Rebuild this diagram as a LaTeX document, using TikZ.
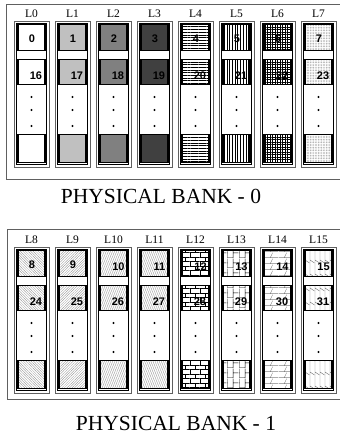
\documentclass[tikz,border=0pt]{standalone}
\usepackage{fontspec}
\setmainfont{Liberation Serif}
\newfontfamily\numfont{Liberation Sans}
\usetikzlibrary{patterns,patterns.meta}
\definecolor{gA}{HTML}{C0C0C0}
\definecolor{gB}{HTML}{808080}
\definecolor{gC}{HTML}{404040}
\definecolor{framegray}{HTML}{606060}
\definecolor{hatchgray}{HTML}{8A8A8A}

\tikzdeclarepattern{
  name=hbricks, type=uncolored,
  bottom left={(-0.5pt,-0.5pt)}, top right={(9.5pt,8.5pt)}, tile size={(10pt,9pt)},
  code={
    \draw[line width=0.45pt] (-0.5pt,0pt) -- (9.5pt,0pt) (-0.5pt,4.5pt) -- (9.5pt,4.5pt)
      (0pt,0pt) -- (0pt,4.5pt) (5pt,4.5pt) -- (5pt,8.5pt) (5pt,-0.5pt) -- (5pt,0pt);
  }
}
\tikzdeclarepattern{
  name=vbricks, type=uncolored,
  bottom left={(-0.5pt,-0.5pt)}, top right={(11.5pt,9.5pt)}, tile size={(12pt,10pt)},
  code={
    \draw[line width=0.45pt] (0pt,-0.5pt) -- (0pt,9.5pt) (6pt,-0.5pt) -- (6pt,9.5pt)
      (0pt,0pt) -- (6pt,0pt) (6pt,5pt) -- (11.5pt,5pt) (-0.5pt,5pt) -- (0pt,5pt);
  }
}
\tikzdeclarepattern{
  name=hslash, type=uncolored,
  bottom left={(-0.5pt,-0.5pt)}, top right={(13.5pt,5.5pt)}, tile size={(14pt,6pt)},
  code={
    \draw[line width=0.45pt] (-0.5pt,0pt) -- (13.5pt,0pt) (5pt,0pt) -- (7.5pt,5.5pt);
  }
}
\tikzdeclarepattern{
  name=vslash, type=uncolored,
  bottom left={(-0.5pt,-0.5pt)}, top right={(4.5pt,13.5pt)}, tile size={(5pt,14pt)},
  code={
    \draw[line width=0.45pt] (0pt,-0.5pt) -- (0pt,13.5pt) (0pt,9pt) -- (4.5pt,6pt);
  }
}

\tikzset{
  bankline/.style={draw=framegray, line width=0.8pt},
  collabel/.style={font=\fontsize{11.5}{12}\selectfont, inner sep=0pt},
  colouter/.style={draw=framegray, line width=0.55pt, minimum width=35pt, minimum height=146pt, inner sep=0pt},
  colinner/.style={draw=black, line width=0.6pt, minimum width=30.5pt, minimum height=141.5pt, inner sep=0pt},
  sq/.style={draw=black, line width=1.1pt, minimum width=27pt, minimum height=25.5pt, inner sep=0pt},
  num/.style={font=\numfont\bfseries\fontsize{11}{12}\selectfont, inner sep=0pt},
  dotn/.style={circle, fill=black, minimum size=2.2pt, inner sep=0pt},
  caption/.style={font=\fontsize{21.5}{24}\selectfont, inner sep=0pt},
  f0/.style={fill=white},
  f1/.style={fill=gA},
  f2/.style={fill=gB},
  f3/.style={fill=gC},
  f4/.style={pattern={Lines[angle=0,distance=2.7pt,line width=0.3pt]}},
  f5/.style={pattern={Lines[angle=90,distance=2.7pt,line width=0.3pt]}},
  f6/.style={pattern={Hatch[angle=0,distance=2.5pt,line width=0.3pt]}},
  f7/.style={pattern={Dots[distance=1.6pt,radius=0.4pt]}, pattern color=gray},
  f8/.style={pattern={Lines[angle=-45,distance=1.8pt,line width=0.3pt]}, pattern color=hatchgray},
  f9/.style={pattern={Lines[angle=45,distance=1.8pt,line width=0.3pt]}, pattern color=hatchgray},
  f10/.style={pattern={Lines[angle=-70,distance=1.8pt,line width=0.3pt]}, pattern color=hatchgray},
  f11/.style={pattern={Lines[angle=70,distance=1.8pt,line width=0.3pt]}, pattern color=hatchgray},
  f12/.style={pattern=hbricks, pattern color=black},
  f13/.style={pattern=vbricks, pattern color=black},
  f14/.style={pattern=hslash, pattern color=gray},
  f15/.style={pattern=vslash, pattern color=gray},
}

\newcommand\bankdraw[2]{%
  \foreach \i in {0,...,7}{
    \pgfmathtruncatemacro\L{#2*8+\i}
    \pgfmathtruncatemacro\M{\L+16}
    \pgfmathsetmacro\cx{31.5+41*\i}
    \ifnum\L<10 \def\dx{0.5}\def\dy{1}\else\def\dx{5}\def\dy{3.5}\fi
    \node[collabel] (lab\L) at (\cx,#1+14) {L\L};
    \node[colouter] (col\L) at (\cx,#1+94) {};
    \node[colinner] (ci\L) at (\cx,#1+94) {};
    \node[sq,f\L] (a\L) at (\cx,#1+37.5) {};
    \node[sq,f\L] (b\L) at (\cx,#1+72) {};
    \node[sq,f\L,minimum height=28pt] (c\L) at (\cx,#1+148.5) {};
    \node[num] (na\L) at (\cx+\dx,#1+37.5+\dy) {\L};
    \node[num] (nb\L) at (\cx+4.5,#1+76) {\M};
    \node[dotn] (da\L) at (\cx,#1+97) {};
    \node[dotn] (db\L) at (\cx,#1+110) {};
    \node[dotn] (dc\L) at (\cx,#1+126) {};
  }
}

\begin{document}
\begin{tikzpicture}[x=1pt,y=-1pt]
\useasboundingbox (0,0) rectangle (340,437);
\draw[bankline] (342,4) -| (6,179) -- (342,179);
\draw[bankline] (342,229) -| (7,399) -- (342,399);
\bankdraw{0}{0}
\bankdraw{226}{1}
\node[caption] (cap0) at (161,196) {PHYSICAL BANK - 0};
\node[caption] (cap1) at (176,423) {PHYSICAL BANK - 1};
\end{tikzpicture}
\end{document}
